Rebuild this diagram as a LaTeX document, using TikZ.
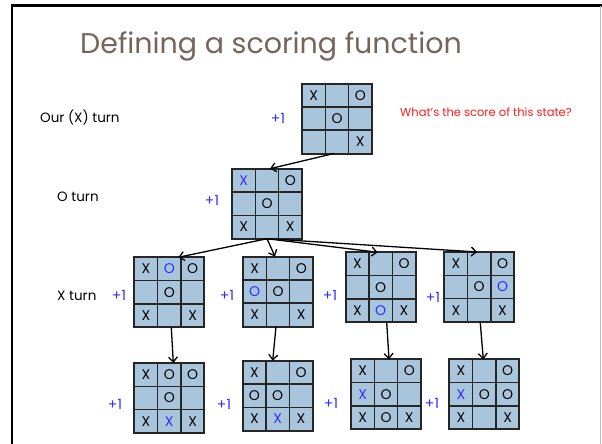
\documentclass[tikz,border=0pt]{standalone}
\usepackage{fontspec}
\setmainfont{Poppins}
\usetikzlibrary{calc,arrows.meta}
\definecolor{titlec}{HTML}{76655B}
\definecolor{cellc}{HTML}{A9C5DC}
\definecolor{gridc}{HTML}{262626}
\definecolor{bluec}{HTML}{2E2EFF}
\definecolor{redc}{HTML}{FF1A1A}
\definecolor{edgec}{HTML}{BDBDBD}
\newcommand\bX{\textcolor{bluec}{X}}
\newcommand\bO{\textcolor{bluec}{O}}
\newcommand\tttboard[4]{%
  \node[board] (#1) at (#2,#3) {};
  \foreach \t [count=\i from 0] in {#4} {
    \pgfmathtruncatemacro\cc{mod(\i,3)}
    \pgfmathtruncatemacro\rr{div(\i,3)}
    \node[cellbox] (#1-\i) at ($(#1)+({(\cc-1)*70/3},{(\rr-1)*70/3})$) {\t};
  }
  \draw[frame] (#1.north west) rectangle (#1.south east);
}
\begin{document}
\begin{tikzpicture}[x=1pt,y=-1pt,
  board/.style={minimum size=70, inner sep=0, outer sep=0, fill=cellc},
  cellbox/.style={minimum size=70/3, inner sep=0, draw=gridc, line width=1.4, font=\fontsize{14}{15}\selectfont},
  frame/.style={draw=gridc, line width=2},
  arr/.style={-{Straight Barb[length=5pt,width=9pt]}, line width=1.3},
  score/.style={text=bluec, font=\fontsize{14}{15}\selectfont},
  lbl/.style={anchor=base west, font=\fontsize{13.5}{14}\selectfont, inner sep=0}]
\useasboundingbox (0,0) rectangle (602,444);
\fill[white] (0,0) rectangle (602,444);
\draw[line width=2.5] (12.2,444) -- (12.2,5.5) -- (602,5.5);
\draw[edgec, line width=1.2] (600.5,6.5) -- (600.5,444);
\node[anchor=base west, inner sep=0, text=titlec, font=\fontsize{28.5}{32}\selectfont] (title) at (80,54) {Defining a scoring function};
\node[lbl] (l0) at (40,122) {Our (X) turn};
\node[lbl] (l1) at (57,201) {O turn};
\node[lbl] (l2) at (57,300) {X turn};
\node[lbl, text=redc, font=\fontsize{11.5}{13}\selectfont] (q) at (400,116) {What’s the score of this state?};
% boards
\tttboard{b0}{337}{118.5}{X,,O,,O,,,,X}
\tttboard{b1}{267}{203.7}{\bX,,O,,O,,X,,X}
\tttboard{a3}{169.3}{292.3}{X,\bO,O,,O,,X,,X}
\tttboard{b3}{278}{291.5}{X,,O,\bO,O,,X,,X}
\tttboard{c3}{380.7}{287.3}{X,,O,,O,,X,\bO,X}
\tttboard{d3}{479.2}{287}{X,,O,,O,\bO,X,,X}
\tttboard{a4}{169.3}{398}{X,O,O,,O,,X,\bX,X}
\tttboard{b4}{277.7}{395.7}{X,,O,O,O,,X,\bX,X}
\tttboard{c4}{386}{394.3}{X,,O,\bX,O,,X,O,X}
\tttboard{d4}{484.3}{394.3}{X,,O,\bX,O,O,X,,X}
% scores
\node[score] (s0) at (278,118) {+1};
\node[score] (s1) at (212,200) {+1};
\node[score] (s2) at (119,295) {+1};
\node[score] (s3) at (227,295) {+1};
\node[score] (s4) at (330,295) {+1};
\node[score] (s5) at (433,297) {+1};
\node[score] (s6) at (115,404) {+1};
\node[score] (s7) at (224,404) {+1};
\node[score] (s8) at (331,403) {+1};
\node[score] (s9) at (432,403) {+1};
% arrows
\draw[arr] ([xshift=-3]b0.south) -- ([xshift=3]b1.north);
\draw[arr] (b1.south) -- ([xshift=9]a3.north);
\draw[arr] (b1.south) -- ([xshift=-3]b3.north);
\draw[arr] (b1.south) -- ([xshift=-3]c3.north);
\draw[arr] (b1.south) -- ([xshift=-2]d3.north);
\draw[arr] ([xshift=2]a3.south) -- ([xshift=4]a4.north);
\draw[arr] ([xshift=-2]b3.south) -- ([xshift=-5]b4.north);
\draw[arr] ([xshift=6]c3.south) -- ([xshift=3]c4.north);
\draw[arr] ([xshift=1]d3.south) -- ([xshift=-1]d4.north);
\end{tikzpicture}
\end{document}
